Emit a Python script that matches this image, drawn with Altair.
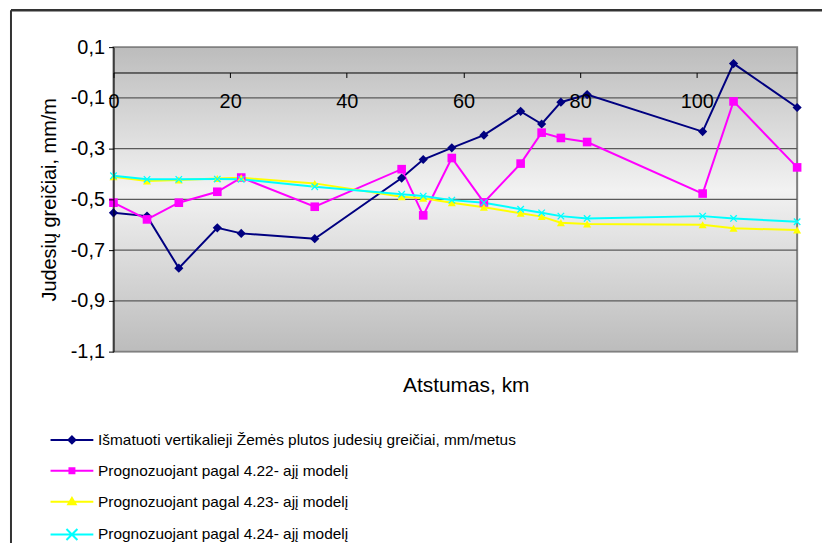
import altair as alt
import pandas as pd

# ---- data ----
distance_km = [0, 5.75, 11.2, 17.8, 21.9, 34.5, 49.4, 53.1, 58.0, 63.5, 69.8, 73.4, 76.7, 81.2, 101.0, 106.3, 117.2]
measured = [-0.553, -0.566, -0.771, -0.612, -0.634, -0.655, -0.416, -0.343, -0.297, -0.247,
            -0.153, -0.203, -0.117, -0.087, -0.233, 0.035, -0.138]
model_422 = [-0.513, -0.579, -0.513, -0.470, -0.414, -0.529, -0.381, -0.563, -0.337, -0.512,
             -0.359, -0.237, -0.258, -0.274, -0.477, -0.114, -0.374]
model_423 = [-0.411, -0.428, -0.424, -0.418, -0.415, -0.437, -0.490, -0.496, -0.513, -0.531,
             -0.555, -0.568, -0.592, -0.597, -0.600, -0.614, -0.621]
model_424 = [-0.407, -0.421, -0.421, -0.420, -0.421, -0.450, -0.480, -0.487, -0.503, -0.513,
             -0.539, -0.553, -0.566, -0.575, -0.566, -0.575, -0.588]

series_names = [
    "Išmatuoti vertikalieji Žemės plutos judesių greičiai, mm/metus",
    "Prognozuojant pagal 4.22- ajį modelį",
    "Prognozuojant pagal 4.23- ajį modelį",
    "Prognozuojant pagal 4.24- ajį modelį",
]
marker_keys = ["m1", "m2", "m3", "m4"]
series_colors = ["#000080", "#ff00ff", "#ffff00", "#00ffff"]
x_ticks = [0, 20, 40, 60, 80, 100]
y_ticks = [0.1, -0.1, -0.3, -0.5, -0.7, -0.9, -1.1]
grid_values = [-0.1, -0.3, -0.5, -0.7, -0.9]

X_CROSS = "M-1,-0.75L-0.75,-1L0,-0.25L0.75,-1L1,-0.75L0.25,0L1,0.75L0.75,1L0,0.25L-0.75,1L-1,0.75L-0.25,0Z"
series_shapes = ["diamond", "square", "triangle-up", X_CROSS]
series_sizes = [85, 55, 140, 200]

# legend symbols: a line sample with the series marker in its middle
LINE = "M-4.3,0L4.3,0"
legend_paths = [
    LINE + "M0,-0.7L0.7,0L0,0.7L-0.7,0ZM0,-0.4L0.4,0L0,0.4L-0.4,0Z",
    LINE + "M-0.5,-0.5L0.5,-0.5L0.5,0.5L-0.5,0.5ZM-0.2,-0.2L0.2,-0.2L0.2,0.2L-0.2,0.2Z",
    LINE + "M0,-0.75L0.75,0.55L-0.75,0.55ZM0,-0.3L0.35,0.3L-0.35,0.3Z",
    LINE + "M-1.1,-1.1L1.1,1.1M-1.1,1.1L1.1,-1.1",
]
legend_fills = ["#000080", "#ff00ff", "#ffff00", "transparent"]

rows = []
for name, key, vals in zip(series_names, marker_keys, [measured, model_422, model_423, model_424]):
    for d, v in zip(distance_km, vals):
        rows.append({"series": name, "marker": key, "dist": d, "value": v})
df = pd.DataFrame(rows)
grid_df = pd.DataFrame({"value": grid_values})

W, H = 687, 306
FONT = "Liberation Sans"

xscale = alt.Scale(domain=[0, 117.2], nice=False, zero=False)
yscale = alt.Scale(domain=[-1.1, 0.1], nice=False, zero=False)

x_enc = alt.X("dist:Q", scale=xscale, title=None,
              axis=alt.Axis(values=x_ticks, orient="bottom", offset=-(H - H * 0.1 / 1.2),
                            grid=False, domainColor="black", domainWidth=1, tickColor="black",
                            tickSize=5, labelFontSize=20, labelFont=FONT, labelColor="black",
                            labelPadding=14, labelFlush=False, zindex=1))
y_enc = alt.Y("value:Q", scale=yscale, title="Judesių greičiai, mm/m",
              axis=alt.Axis(values=y_ticks, grid=False,
                            domainColor="black", domainWidth=1, tickColor="black", tickSize=5,
                            labelFontSize=20, labelFont=FONT, labelColor="black", labelPadding=4,
                            labelExpr="(datum.value < 0 ? '-' : '') + replace(format(abs(datum.value), '.1f'), '.', ',')",
                            titleFontSize=20, titleFont=FONT, titleFontWeight="normal",
                            titleColor="black", titleX=-64, titleBaseline="middle", zindex=1))

one = pd.DataFrame({"k": [0]})

bg = alt.Chart(one).mark_rect(
    fill=alt.Gradient(gradient="linear", x1=0, x2=0, y1=0, y2=1,
                      stops=[alt.GradientStop(offset=0, color="#bcbcbc"),
                             alt.GradientStop(offset=0.47, color="#f2f2f2"),
                             alt.GradientStop(offset=1, color="#bcbcbc")]),
    stroke="#808080", strokeWidth=2,
).encode(x=alt.value(0), x2=alt.value(W), y=alt.value(0), y2=alt.value(H))

grid = alt.Chart(grid_df).mark_rule(color="#5a5a5a", strokeWidth=1.5).encode(y=y_enc)

LEG_X = -49.5
LEG_Y = 387

names_js = "[" + ",".join("'" + n + "'" for n in series_names) + "]"
idx_js = "indexof(" + names_js + ", datum.value)"
shape_js = "[" + ",".join("'" + p + "'" for p in legend_paths) + "][" + idx_js + "]"
fill_js = "[" + ",".join("'" + c + "'" for c in legend_fills) + "][" + idx_js + "]"

lines = alt.Chart(df).mark_line(strokeWidth=2).encode(
    x=x_enc, y=y_enc,
    stroke=alt.Stroke("series:N", scale=alt.Scale(domain=series_names, range=series_colors),
                      legend=alt.Legend(orient="none", legendX=LEG_X, legendY=LEG_Y, title=None,
                                        symbolType=alt.ExprRef(expr=shape_js),
                                        symbolFillColor=alt.ExprRef(expr=fill_js),
                                        symbolSize=100, symbolStrokeWidth=2,
                                        labelFontSize=15.5, labelFont=FONT,
                                        labelColor="black", labelOffset=18.5, rowPadding=14,
                                        padding=0, labelLimit=600)),
)

points = alt.Chart(df).mark_point(filled=True, opacity=1).encode(
    x=x_enc, y=y_enc,
    fill=alt.Fill("marker:N", scale=alt.Scale(domain=marker_keys, range=series_colors),
                  legend=None),
    shape=alt.Shape("marker:N", scale=alt.Scale(domain=marker_keys, range=series_shapes),
                    legend=None),
    size=alt.Size("marker:N", scale=alt.Scale(domain=marker_keys, range=series_sizes),
                  legend=None),
)

x_title = alt.Chart(one).mark_text(
    text="Atstumas, km", font=FONT, fontSize=21, color="black", align="center", baseline="middle"
).encode(x=alt.value(354.5), y=alt.value(341))

frame_top = alt.Chart(one).mark_rule(color="#333333", strokeWidth=2.5).encode(
    x=alt.value(-103), x2=alt.value(W + 40), y=alt.value(-37))
frame_left = alt.Chart(one).mark_rule(color="#333333", strokeWidth=2).encode(
    x=alt.value(-103), y=alt.value(-37), y2=alt.value(H + 200))

chart = alt.layer(bg, grid, lines, points, x_title, frame_top, frame_left).properties(
    width=W, height=H,
    autosize=alt.AutoSizeParams(type="none"),
    padding={"left": 106, "top": 38, "right": 25, "bottom": 191},
).configure_view(stroke=None).configure(background="white")

chart.save("out.html", embed_options={"renderer": "svg", "actions": False})
